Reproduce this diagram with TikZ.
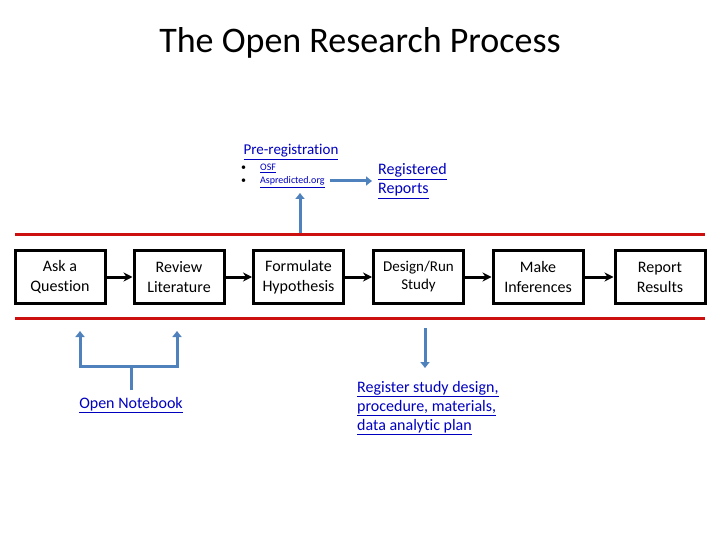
\documentclass[tikz,border=0pt]{standalone}
\usepackage{fontspec}
\setmainfont{Carlito}[Ligatures=NoCommon]
\usepackage{tikz}
\usetikzlibrary{arrows.meta,positioning}
\definecolor{stepred}{rgb}{0.80,0.06,0.06}
\definecolor{pipeblue}{rgb}{0.31,0.51,0.74}
\definecolor{linkblue}{rgb}{0.0,0.0,0.75}
\newcommand{\lnk}[1]{\underline{#1}}

\begin{document}
\begin{tikzpicture}[x=1pt, y=-1pt,
  stepbox/.style={draw, line width=3pt, minimum width=90pt, minimum height=53pt, align=center, font=\fontsize{16}{20}\selectfont, inner sep=2pt},
  flow/.style={line width=3pt, -{Stealth[length=9pt,width=9pt]}},
  pipe/.style={draw=pipeblue, line width=3pt, -{Triangle[length=6pt,width=9pt]}},
  redline/.style={draw=stepred, line width=3pt},
  link/.style={text=linkblue, align=left, inner sep=0pt}
]
\useasboundingbox (0,0) rectangle (720,540);
\node[font=\fontsize{36}{42}\selectfont] (title) at (360,43) {The Open Research Process};

% the research steps
\draw[redline] (15,234) -- (705,234);
\draw[redline] (15,318) -- (705,318);
\node[stepbox] (ask) at (60,277) {Ask a\\Question};
\node[stepbox] (review) at (179,277) {Review\\Literature};
\node[stepbox] (form) at (298.5,277) {Formulate\\Hypothesis};
\node[stepbox, font=\fontsize{15}{18}\selectfont] (design) at (418.5,277) {Design/Run\\Study};
\node[stepbox] (infer) at (538,277) {Make\\Inferences};
\node[stepbox] (report) at (660,277) {Report\\Results};
\draw[flow] (ask) -- (review);
\draw[flow] (review) -- (form);
\draw[flow] (form) -- (design);
\draw[flow] (design) -- (infer);
\draw[flow] (infer) -- (report);

% pre-registration
\node[link, font=\fontsize{15}{18}\selectfont] (prereg) at (291,152) {\lnk{Pre-registration}};
\node[link, anchor=west, font=\fontsize{10}{13}\selectfont] (sites) at (241,176) {\textcolor{black}{\textbullet}\hspace{14pt}\lnk{OSF}\\\textcolor{black}{\textbullet}\hspace{14pt}\lnk{Aspredicted.org}};
\node[link, anchor=west, font=\fontsize{16}{19}\selectfont] (regrep) at (378,181) {\lnk{Registered}\\\lnk{Reports}};
\coordinate (regin) at (372,181);
\draw[pipe] (sites.east |- regin) ++(5,0) -- (regin);
\coordinate (formup) at (300,233);
\coordinate (sitesin) at (300,193);
\draw[pipe] (formup) -- (sitesin);

% open notebook
\node[link, font=\fontsize{16}{18}\selectfont] (notebook) at (131,405) {\lnk{Open Notebook}};
\coordinate (fork) at (131,366);
\draw[draw=pipeblue, line width=3pt] (131,390) -- (fork);
\draw[pipe] (fork) -| (80,331);
\draw[pipe] (fork) -| (177,331);

% register study
\node[link, anchor=north west, font=\fontsize{16}{19}\selectfont] (regstudy) at (357,381) {\lnk{Register study design,}\\\lnk{procedure, materials,}\\\lnk{data analytic plan}};
\coordinate (designdown) at (425,328);
\coordinate (regstudyin) at (425,368);
\draw[pipe] (designdown) -- (regstudyin);
\end{tikzpicture}
\end{document}
